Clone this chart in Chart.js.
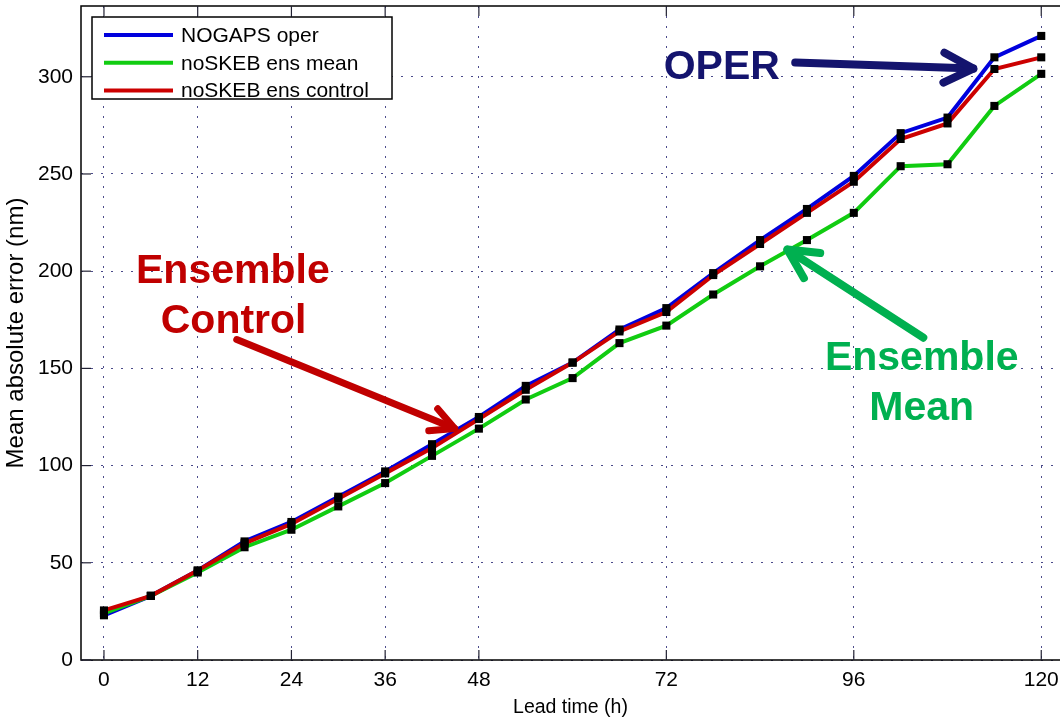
<!DOCTYPE html>
<html>
<head>
<meta charset="utf-8">
<script src="https://cdn.jsdelivr.net/npm/chart.js@4.4.0/dist/chart.umd.min.js"></script>
<style>
  html, body { margin: 0; padding: 0; background: #fff; }
  #wrap { width: 1060px; height: 721px; }
</style>
</head>
<body>
<div id="wrap"><canvas id="errChart" width="1060" height="721"></canvas></div>
<script>
// lead time (h) and error curves (nm)
const leadHours = [0, 6, 12, 18, 24, 30, 36, 42, 48, 54, 60, 66, 72, 78, 84, 90, 96, 102, 108, 114, 120];
const operErr   = [23, 33, 46, 61, 71, 84, 97, 111, 125, 141, 153, 170, 181, 199, 216, 232, 249, 271, 279, 310, 321];
const meanErr   = [24, 33, 45, 58, 67, 79, 91, 105, 119, 134, 145, 163, 172, 188, 202.5, 216, 230, 254, 255, 285, 301.5];
const ctrlErr   = [25.5, 33, 46, 60, 70, 83, 96, 109, 124, 139, 153, 169, 179, 198, 214, 230, 246, 268, 276, 304, 310];

const xTicks = [0, 12, 24, 36, 48, 72, 96, 120];
const yTicks = [0, 50, 100, 150, 200, 250, 300];

const seriesNames  = ["NOGAPS oper", "noSKEB ens mean", "noSKEB ens control"];
const seriesColors = ["#0000dd", "#11cc11", "#cc0000"];

const FONT = "'Liberation Sans', Arial, sans-serif";

function pts(vals) {
    return leadHours.map((h, i) => ({ x: h, y: vals[i] }));
}

// line datasets (red on top, like the original)
function lineSet(i, vals, ord) {
    return {
        label: seriesNames[i],
        data: pts(vals),
        borderColor: seriesColors[i],
        backgroundColor: seriesColors[i],
        borderWidth: 4,
        pointRadius: 0,
        tension: 0,
        order: ord
    };
}
// black square markers drawn over every line
function markSet(vals) {
    return {
        label: "_marks",
        data: pts(vals),
        showLine: false,
        pointStyle: "rect",
        pointRadius: 5.7,
        pointBackgroundColor: "#000",
        pointBorderColor: "#000",
        pointBorderWidth: 0,
        order: 0
    };
}

// annotations, given in data units (h, nm)
const notes = [
    { color: "#c00000", lines: [["Ensemble", 16.5, 194.1], ["Control", 16.6, 168.4]],
      arrow: [17.0, 164.8, 44.9, 119.1], width: 7, head: 26 },
    { color: "#00b050", lines: [["Ensemble", 104.7, 149.4], ["Mean", 104.7, 123.7]],
      arrow: [104.9, 165.8, 87.5, 211.1], width: 8, head: 33 },
    { color: "#14146e", lines: [["OPER", 79.1, 298.6]],
      arrow: [88.5, 307.3, 111.3, 304.2], width: 8, head: 33 }
];

function drawArrow(ctx, x1, y1, x2, y2, w, headLen) {
    const ang = Math.atan2(y2 - y1, x2 - x1);
    const spread = 27 * Math.PI / 180;
    ctx.lineWidth = w;
    ctx.lineCap = "round";
    ctx.lineJoin = "round";
    ctx.beginPath();
    ctx.moveTo(x1, y1);
    ctx.lineTo(x2, y2);
    ctx.stroke();
    ctx.beginPath();
    ctx.moveTo(x2 - headLen * Math.cos(ang - spread), y2 - headLen * Math.sin(ang - spread));
    ctx.lineTo(x2, y2);
    ctx.lineTo(x2 - headLen * Math.cos(ang + spread), y2 - headLen * Math.sin(ang + spread));
    ctx.stroke();
}

const boxPlugin = {
    id: "matlabBox",
    afterDraw(chart) {
        const ctx = chart.ctx;
        const a = chart.chartArea;
        const xs = chart.scales.x, ys = chart.scales.y;
        ctx.save();

        // axes box (right side falls outside the picture)
        ctx.strokeStyle = "#000";
        ctx.lineWidth = 1.5;
        ctx.strokeRect(a.left, a.top, a.right - a.left + 5, a.bottom - a.top);

        // inward ticks
        ctx.lineWidth = 1.2;
        ctx.strokeStyle = "#223";
        xTicks.forEach(v => {
            const px = xs.getPixelForValue(v);
            ctx.beginPath();
            ctx.moveTo(px, a.bottom); ctx.lineTo(px, a.bottom - 10);
            ctx.moveTo(px, a.top); ctx.lineTo(px, a.top + 10);
            ctx.stroke();
        });
        yTicks.forEach(v => {
            const py = ys.getPixelForValue(v);
            ctx.beginPath();
            ctx.moveTo(a.left, py); ctx.lineTo(a.left + 10, py);
            ctx.stroke();
        });

        // legend box
        const lx = a.left + 11, ly = a.top + 11;
        ctx.fillStyle = "#fff";
        ctx.fillRect(lx, ly, 300, 82);
        ctx.lineWidth = 1.5;
        ctx.strokeStyle = "#000";
        ctx.strokeRect(lx, ly, 300, 82);
        ctx.font = "21px " + FONT;
        ctx.textBaseline = "middle";
        ctx.textAlign = "left";
        seriesNames.forEach((name, i) => {
            const yy = ly + 18 + i * 27.8;
            ctx.strokeStyle = seriesColors[i];
            ctx.lineWidth = 4;
            ctx.beginPath();
            ctx.moveTo(lx + 12, yy); ctx.lineTo(lx + 81, yy);
            ctx.stroke();
            ctx.fillStyle = "#000";
            ctx.fillText(name, lx + 89, yy + 1);
        });

        // annotations
        notes.forEach(n => {
            ctx.fillStyle = n.color;
            ctx.strokeStyle = n.color;
            ctx.font = "bold 41px " + FONT;
            ctx.textAlign = "center";
            ctx.textBaseline = "alphabetic";
            n.lines.forEach(t => {
                ctx.fillText(t[0], xs.getPixelForValue(t[1]), ys.getPixelForValue(t[2]));
            });
            const [h1, v1, h2, v2] = n.arrow;
            drawArrow(ctx, xs.getPixelForValue(h1), ys.getPixelForValue(v1),
                      xs.getPixelForValue(h2), ys.getPixelForValue(v2), n.width, n.head);
        });
        ctx.restore();
    }
};

const gridColor = "rgba(30,30,110,0.8)";

new Chart(document.getElementById("errChart"), {
    type: "line",
    data: {
        datasets: [
            lineSet(0, operErr, 3),
            lineSet(1, meanErr, 2),
            lineSet(2, ctrlErr, 1),
            markSet(operErr),
            markSet(meanErr),
            markSet(ctrlErr)
        ]
    },
    options: {
        responsive: false,
        animation: false,
        events: [],
        layout: { autoPadding: false, padding: { top: 6, right: 0, left: 0, bottom: 0 } },
        plugins: {
            legend: { display: false },
            tooltip: { enabled: false }
        },
        scales: {
            x: {
                type: "linear",
                min: -2.94,
                max: 122.4,
                afterBuildTicks: s => { s.ticks = xTicks.map(v => ({ value: v })); },
                afterFit: s => { s.height = 61; s.paddingLeft = 0; s.paddingRight = 0; },
                ticks: { font: { family: FONT, size: 21 }, color: "#000", padding: 8, maxRotation: 0, autoSkip: false },
                grid: { color: gridColor, lineWidth: 1, drawTicks: false },
                border: { display: false, dash: [2, 8] },
                title: { display: true, text: "Lead time (h)", color: "#000",
                         font: { family: FONT, size: 19.5 }, padding: { top: 0, bottom: 2 } }
            },
            y: {
                min: 0,
                max: 336.4,
                afterBuildTicks: s => { s.ticks = yTicks.map(v => ({ value: v })); },
                afterFit: s => { s.width = 81; s.paddingTop = 0; s.paddingBottom = 0; },
                ticks: { font: { family: FONT, size: 21 }, color: "#000", padding: 8 },
                grid: { color: gridColor, lineWidth: 1, drawTicks: false },
                border: { display: false, dash: [2, 8] },
                title: { display: true, text: "Mean absolute error (nm)", color: "#000",
                         font: { family: FONT, size: 24 }, padding: { top: 2, bottom: 0 } }
            }
        }
    },
    plugins: [boxPlugin]
});
</script>
</body>
</html>
